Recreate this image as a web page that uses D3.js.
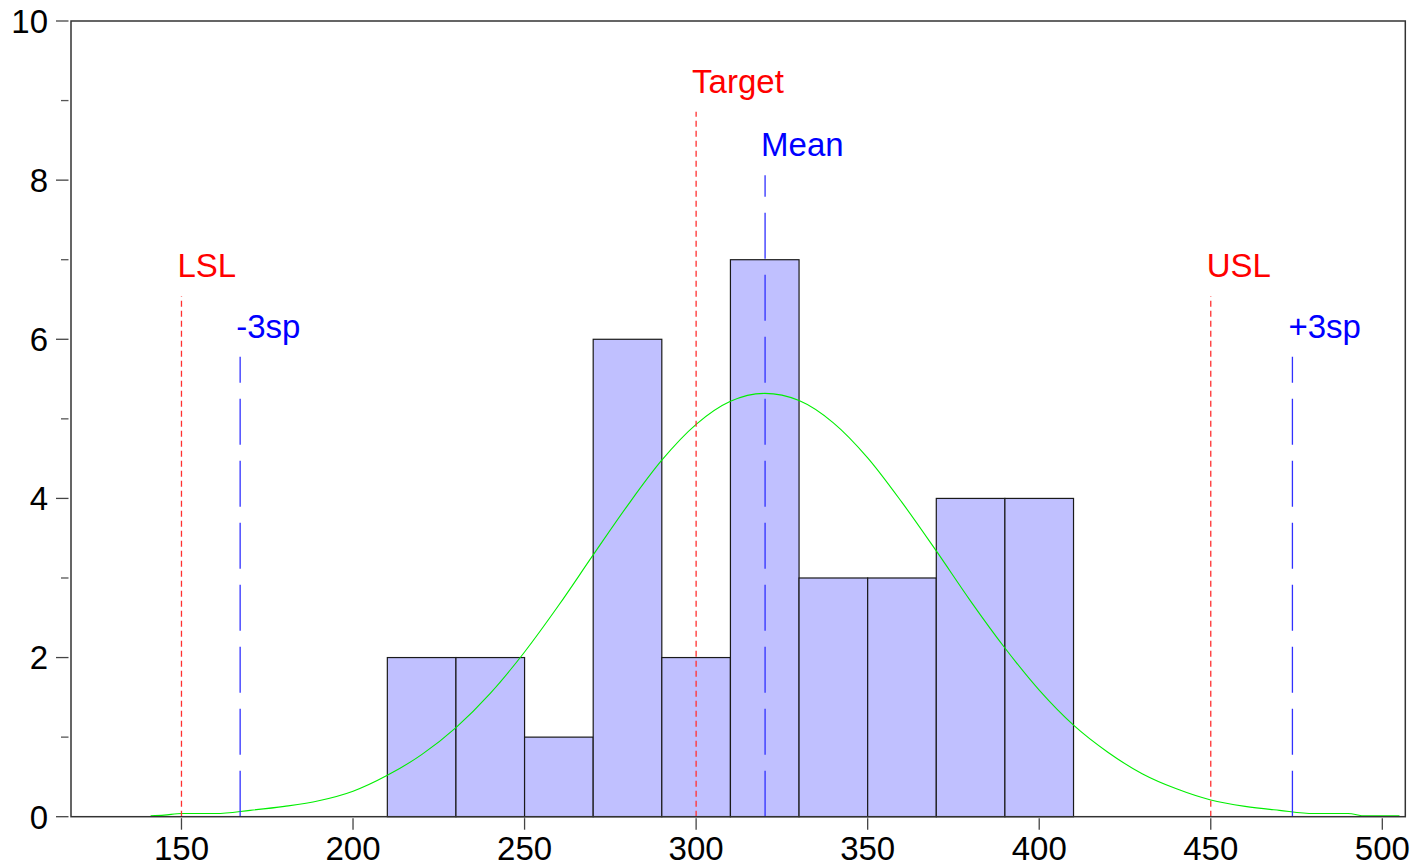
<!DOCTYPE html>
<html>
<head>
<meta charset="utf-8">
<script src="https://cdn.jsdelivr.net/npm/d3@7"></script>
<style>
  html, body { margin: 0; padding: 0; background: #fff; }
  svg { display: block; }
  text { font-family: "Liberation Sans", Arial, sans-serif; }
</style>
</head>
<body>
<svg id="chart" width="1412" height="866"></svg>
<script>
// ---- data ----
const binStarts = [210, 230, 250, 270, 290, 310, 330, 350, 370, 390];
const binWidth = 20;
const binCounts = [2, 2, 1, 6, 2, 7, 3, 3, 4, 4];

const curveX = [141, 145, 150, 160, 170, 180, 190, 200, 210, 220, 230, 240, 250, 260, 270, 280, 290, 300, 310, 320,
                330, 340, 350, 360, 370, 380, 390, 400, 410, 420, 430, 440, 450, 460, 470, 480, 490, 495, 505];
const curveY = [0.01, 0.02, 0.04, 0.04, 0.08, 0.13, 0.2, 0.32, 0.52, 0.78, 1.12, 1.55, 2.07, 2.66, 3.29, 3.91, 4.48, 4.93, 5.22, 5.32,
                5.23, 4.95, 4.51, 3.95, 3.34, 2.71, 2.12, 1.59, 1.15, 0.81, 0.54, 0.35, 0.21, 0.13, 0.08, 0.04, 0.04, 0.01, 0.01];

const refNames  = ["LSL", "Target", "USL", "-3sp", "Mean", "+3sp"];
const refValues = [150, 300, 450, 167.1, 320.1, 473.8];
const refTops   = [6.54, 8.86, 6.54, 5.78, 8.06, 5.78];
const refKinds  = ["spec", "spec", "spec", "stat", "stat", "stat"];

const xTicks = [150, 200, 250, 300, 350, 400, 450, 500];
const yTicks = [0, 2, 4, 6, 8, 10];
const yMinorTicks = [1, 3, 5, 7, 9];

// ---- layout ----
const svg = d3.select("#chart");
const plot = { left: 71, top: 21, right: 1405.3, bottom: 816.7 };
const fontSize = 33;

const x = d3.scaleLinear().domain([117.8, 506.7]).range([plot.left, plot.right]);
const y = d3.scaleLinear().domain([0, 10]).range([plot.bottom, plot.top]);

// bars
svg.append("g").selectAll("rect")
  .data(binStarts.map((s, i) => ({ s, c: binCounts[i] })))
  .join("rect")
  .attr("x", d => x(d.s))
  .attr("y", d => y(d.c))
  .attr("width", d => x(d.s + binWidth) - x(d.s))
  .attr("height", d => y(0) - y(d.c))
  .attr("fill", "#c0c0ff")
  .attr("stroke", "#1a1a1a")
  .attr("stroke-width", 1.2);

// normal curve
const line = d3.line()
  .x((d, i) => x(curveX[i]))
  .y(d => y(d))
  .curve(d3.curveMonotoneX);
svg.append("path")
  .attr("d", line(curveY))
  .attr("fill", "none")
  .attr("stroke", "#00ee00")
  .attr("stroke-width", 1.1);

// reference lines
const refs = refNames.map((n, i) => ({ n, v: refValues[i], t: refTops[i], k: refKinds[i] }));
const rg = svg.append("g");
rg.selectAll("line")
  .data(refs)
  .join("line")
  .attr("x1", d => x(d.v)).attr("x2", d => x(d.v))
  .attr("y1", y(0)).attr("y2", d => y(d.t))
  .attr("stroke", d => d.k === "spec" ? "#ff3030" : "#3030ff")
  .attr("stroke-width", 1.3)
  .attr("stroke-dasharray", d => d.k === "spec" ? "6,4" : "46,16");
rg.selectAll("text")
  .data(refs)
  .join("text")
  .attr("x", d => x(d.v) - 4)
  .attr("y", d => y(d.t) - 19)
  .attr("fill", d => d.k === "spec" ? "#ff0000" : "#0000ff")
  .attr("font-size", fontSize)
  .text(d => d.n);

// frame
svg.append("rect")
  .attr("x", plot.left).attr("y", plot.top)
  .attr("width", plot.right - plot.left).attr("height", plot.bottom - plot.top)
  .attr("fill", "none").attr("stroke", "#333").attr("stroke-width", 1.5);

// x axis ticks
const xg = svg.append("g");
xg.selectAll("line").data(xTicks).join("line")
  .attr("x1", d => x(d)).attr("x2", d => x(d))
  .attr("y1", plot.bottom + 1.5).attr("y2", plot.bottom + 13)
  .attr("stroke", "#444").attr("stroke-width", 1.3);
xg.selectAll("text").data(xTicks).join("text")
  .attr("x", d => x(d)).attr("y", 859.5)
  .attr("text-anchor", "middle").attr("font-size", fontSize).attr("fill", "#000")
  .text(d => d);

// y axis ticks
const yg = svg.append("g");
yg.selectAll("line.major").data(yTicks).join("line").attr("class", "major")
  .attr("x1", plot.left - 15).attr("x2", plot.left - 2.5)
  .attr("y1", d => y(d)).attr("y2", d => y(d))
  .attr("stroke", "#444").attr("stroke-width", 1.3);
yg.selectAll("line.minor").data(yMinorTicks).join("line").attr("class", "minor")
  .attr("x1", plot.left - 10).attr("x2", plot.left - 2.5)
  .attr("y1", d => y(d)).attr("y2", d => y(d))
  .attr("stroke", "#555").attr("stroke-width", 1.3);
yg.selectAll("text").data(yTicks).join("text")
  .attr("x", 48).attr("y", d => y(d) + 11.8)
  .attr("text-anchor", "end").attr("font-size", fontSize).attr("fill", "#000")
  .text(d => d);
</script>
</body>
</html>
